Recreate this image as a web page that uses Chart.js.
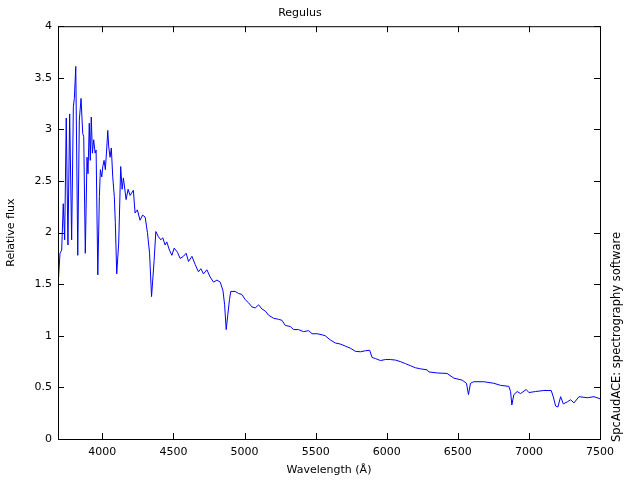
<!DOCTYPE html>
<html>
<head>
<meta charset="utf-8">
<script src="https://cdn.jsdelivr.net/npm/chart.js@4"></script>
<style>
  html, body { margin: 0; padding: 0; background: #fff; }
  #wrap { width: 640px; height: 480px; }
</style>
</head>
<body>
<div id="wrap"><canvas id="chart" width="640" height="480"></canvas></div>
<script>
// spectrum
const wavelength = [
  3688, 3693, 3702, 3714, 3725, 3735, 3746, 3758, 3770, 3784,
  3796, 3803, 3813, 3827, 3838, 3850, 3862, 3869, 3880, 3892,
  3899, 3908, 3915, 3922, 3930, 3939, 3949, 3956, 3968, 3979,
  3986, 3996, 4003, 4012, 4021, 4031, 4038, 4045, 4054, 4063,
  4073, 4084, 4091, 4101, 4115, 4129, 4139, 4148, 4167, 4181,
  4195, 4218, 4230, 4246, 4265, 4283, 4301, 4317, 4332, 4346,
  4364, 4376, 4394, 4411, 4425, 4441, 4453, 4472, 4489, 4505,
  4528, 4547, 4570, 4589, 4606, 4630, 4653, 4676, 4693, 4711,
  4735, 4758, 4782, 4806, 4829, 4848, 4860, 4871, 4882, 4894,
  4903, 4934, 4958, 4982, 5005, 5028, 5052, 5075, 5099, 5122,
  5146, 5169, 5204, 5239, 5263, 5287, 5322, 5345, 5380, 5415,
  5451, 5475, 5510, 5545, 5568, 5603, 5639, 5674, 5709, 5744,
  5779, 5815, 5850, 5880, 5897, 5920, 5956, 5991, 6026, 6061,
  6096, 6132, 6167, 6202, 6237, 6284, 6296, 6355, 6425, 6472,
  6531, 6561, 6575, 6589, 6612, 6683, 6753, 6800, 6859, 6871,
  6880, 6894, 6918, 6941, 6981, 7000, 7047, 7105, 7157, 7171,
  7188, 7204, 7223, 7242, 7270, 7293, 7317, 7352, 7411, 7458,
  7500
];
const flux = [
  1.57, 1.59, 1.80, 1.83, 2.28, 1.93, 3.11, 1.88, 3.15, 1.93,
  3.22, 3.30, 3.61, 1.78, 3.09, 3.30, 2.96, 2.93, 1.80, 2.73,
  2.57, 3.06, 2.70, 3.12, 2.77, 2.90, 2.77, 2.80, 1.59, 2.35,
  2.61, 2.54, 2.64, 2.70, 2.61, 2.82, 2.99, 2.83, 2.73, 2.82,
  2.54, 2.35, 2.10, 1.60, 1.90, 2.64, 2.42, 2.53, 2.32, 2.42,
  2.36, 2.41, 2.19, 2.22, 2.12, 2.17, 2.15, 2.00, 1.80, 1.38,
  1.73, 2.01, 1.96, 1.93, 1.95, 1.88, 1.91, 1.83, 1.78, 1.85,
  1.81, 1.75, 1.77, 1.80, 1.72, 1.77, 1.69, 1.62, 1.65, 1.60,
  1.64, 1.57, 1.52, 1.54, 1.52, 1.44, 1.30, 1.06, 1.20, 1.35,
  1.43, 1.43, 1.41, 1.40, 1.35, 1.32, 1.28, 1.27, 1.30, 1.26,
  1.24, 1.20, 1.17, 1.16, 1.15, 1.10, 1.09, 1.06, 1.06, 1.04,
  1.05, 1.02, 1.02, 1.01, 1.00, 0.96, 0.93, 0.92, 0.90, 0.88,
  0.85, 0.845, 0.855, 0.86, 0.79, 0.78, 0.76, 0.77, 0.77, 0.765,
  0.75, 0.73, 0.71, 0.69, 0.68, 0.67, 0.65, 0.64, 0.635, 0.59,
  0.57, 0.54, 0.43, 0.54, 0.555, 0.555, 0.54, 0.52, 0.51, 0.46,
  0.33, 0.43, 0.46, 0.44, 0.48, 0.45, 0.46, 0.47, 0.47, 0.41,
  0.32, 0.31, 0.41, 0.34, 0.36, 0.38, 0.35, 0.41, 0.40, 0.41,
  0.39
];
const xTicks = [4000, 4500, 5000, 5500, 6000, 6500, 7000, 7500];
const yTicks = [0, 0.5, 1, 1.5, 2, 2.5, 3, 3.5, 4];

const FONT = 'Verdana, "DejaVu Sans", sans-serif';

// gnuplot-like frame: inward ticks on all four sides, plus the side note
const frameTicks = {
  id: 'frameTicks',
  afterDraw(chart) {
    const { ctx, chartArea: a, scales } = chart;
    const len = 6;
    ctx.save();
    ctx.strokeStyle = '#000';
    ctx.lineWidth = 1;
    ctx.beginPath();
    xTicks.forEach(v => {
      const px = Math.round(scales.x.getPixelForValue(v)) + 0.5;
      ctx.moveTo(px, a.bottom); ctx.lineTo(px, a.bottom - len);
      ctx.moveTo(px, a.top); ctx.lineTo(px, a.top + len);
    });
    yTicks.forEach(v => {
      const py = Math.round(scales.y.getPixelForValue(v)) + 0.5;
      ctx.moveTo(a.left, py); ctx.lineTo(a.left + len, py);
      ctx.moveTo(a.right, py); ctx.lineTo(a.right - len, py);
    });
    ctx.stroke();
    ctx.strokeRect(a.left + 0.5, a.top + 0.5, a.right - a.left, a.bottom - a.top);

    ctx.fillStyle = '#000';
    ctx.font = '11.5px ' + FONT;
    ctx.textAlign = 'left';
    ctx.textBaseline = 'middle';
    ctx.translate(617, 442);
    ctx.rotate(-Math.PI / 2);
    ctx.fillText('SpcAudACE: spectrography software', 0, 0);
    ctx.restore();
  }
};

new Chart(document.getElementById('chart'), {
  type: 'line',
  data: {
    datasets: [{
      data: wavelength.map((w, i) => ({ x: w, y: flux[i] })),
      borderColor: '#0000ff',
      borderWidth: 1,
      pointRadius: 0,
      tension: 0,
      fill: false
    }]
  },
  options: {
    responsive: false,
    animation: false,
    layout: { padding: { left: 0, right: 40, top: 0, bottom: 0 } },
    plugins: {
      legend: { display: false },
      tooltip: { enabled: false },
      title: {
        display: true,
        text: 'Regulus',
        color: '#000',
        font: { family: FONT, size: 11, weight: 'normal' },
        padding: { top: 7, bottom: 6 }
      }
    },
    scales: {
      x: {
        type: 'linear',
        min: 3688,
        max: 7500,
        afterBuildTicks: s => { s.ticks = xTicks.map(v => ({ value: v })); },
        afterFit: s => { s.height = 41; },
        grid: { display: false, drawTicks: false },
        border: { display: false },
        ticks: {
          color: '#000',
          padding: 7,
          maxRotation: 0,
          font: { family: FONT, size: 11 },
          callback: v => String(v)
        },
        title: {
          display: true,
          text: 'Wavelength (Å)',
          color: '#000',
          font: { family: FONT, size: 11 },
          padding: { top: 0, bottom: 3 }
        }
      },
      y: {
        min: 0,
        max: 4,
        afterBuildTicks: s => { s.ticks = yTicks.map(v => ({ value: v })); },
        afterFit: s => { s.width = 58; },
        grid: { display: false, drawTicks: false },
        border: { display: false },
        ticks: {
          color: '#000',
          padding: 6,
          font: { family: FONT, size: 11 },
          callback: v => String(v)
        },
        title: {
          display: true,
          text: 'Relative flux',
          color: '#000',
          font: { family: FONT, size: 11 },
          padding: { top: 5, bottom: 0 }
        }
      }
    }
  },
  plugins: [frameTicks]
});
</script>
</body>
</html>
